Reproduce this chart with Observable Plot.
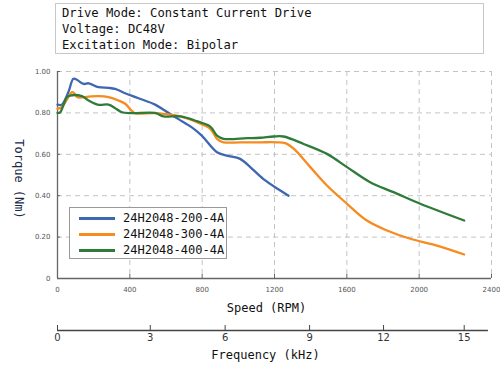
<!DOCTYPE html>
<html>
<head>
<meta charset="utf-8">
<script src="https://cdn.jsdelivr.net/npm/d3@7"></script>
<script src="https://cdn.jsdelivr.net/npm/@observablehq/plot@0.6"></script>
<style>
  body { margin: 0; background: #fff; }
  #wrap { position: relative; width: 500px; height: 374px; overflow: hidden; }
  #title {
    position: absolute; left: 55px; top: 3px; width: 421px; height: 48px;
    border: 1px solid #c8c8c8; padding: 1px 0 0 6px;
    font-family: "DejaVu Sans Mono", monospace; font-size: 12.2px; line-height: 16px; color: #111;
  }
  #chart { position: absolute; left: 0; top: 60px; }
  #legend {
    position: absolute; left: 69px; top: 207px; width: 156px; height: 50px;
    border: 1px solid #999; background: #fff;
    font-family: "DejaVu Sans Mono", monospace; font-size: 12px; color: #111;
  }
  .row { position: absolute; left: 9px; height: 16px; display: flex; align-items: center; }
  .sw { width: 36px; height: 3px; margin-right: 8px; }
</style>
</head>
<body>
<div id="wrap">
  <div id="title"></div>
  <div id="chart"></div>
  <div id="legend"></div>
</div>
<script>
// ---- text ----
const titleLines = ["Drive Mode: Constant Current Drive", "Voltage: DC48V", "Excitation Mode: Bipolar"];
const seriesNames = ["24H2048-200-4A", "24H2048-300-4A", "24H2048-400-4A"];
const seriesColors = ["#3d67b1", "#f68b1f", "#2f7b3a"];
const xLabel = "Speed (RPM)";
const yLabel = "Torque (Nm)";
const freqLabel = "Frequency (kHz)";

// ---- ticks ----
const rpmTicks = [0, 400, 800, 1200, 1600, 2000, 2400];
const torqueTicks = [0, 0.2, 0.4, 0.6, 0.8, 1.0];
const freqTickLabels = ["0", "3", "6", "9", "12", "15"];
// speed (RPM) under which each frequency label sits
const freqTickAtRpm = [0, 513, 927, 1394, 1803, 2249];
const freqAxisEndRpm = 2383;

// ---- series: 24H2048-200-4A ----
const rpm200 = [0, 24, 60, 88, 107, 144, 172, 227, 282, 319, 374, 448, 540, 596, 669, 743, 798, 882, 937, 1010, 1066, 1139, 1232, 1278];
const tq200  = [0.84, 0.84, 0.90, 0.965, 0.96, 0.94, 0.943, 0.924, 0.921, 0.916, 0.895, 0.871, 0.84, 0.81, 0.77, 0.73, 0.69, 0.61, 0.594, 0.578, 0.538, 0.48, 0.425, 0.40];
// ---- series: 24H2048-300-4A ----
const rpm300 = [0, 24, 80, 92, 110, 172, 227, 282, 337, 374, 411, 430, 531, 586, 679, 771, 845, 882, 918, 1010, 1121, 1213, 1259, 1306, 1398, 1490, 1601, 1711, 1822, 1951, 2098, 2249];
const tq300  = [0.82, 0.828, 0.90, 0.895, 0.876, 0.879, 0.881, 0.876, 0.86, 0.844, 0.81, 0.798, 0.799, 0.795, 0.783, 0.755, 0.723, 0.675, 0.658, 0.658, 0.658, 0.658, 0.654, 0.627, 0.538, 0.449, 0.361, 0.28, 0.232, 0.192, 0.159, 0.116];
// ---- series: 24H2048-400-4A ----
const rpm400 = [0, 15, 52, 70, 135, 172, 227, 282, 319, 356, 411, 540, 586, 679, 771, 845, 882, 918, 1048, 1121, 1195, 1250, 1361, 1490, 1601, 1729, 1858, 2006, 2249];
const tq400  = [0.80, 0.803, 0.876, 0.884, 0.881, 0.86, 0.839, 0.84, 0.823, 0.803, 0.799, 0.80, 0.783, 0.783, 0.76, 0.734, 0.69, 0.675, 0.678, 0.68, 0.686, 0.686, 0.65, 0.602, 0.538, 0.465, 0.417, 0.361, 0.28];

const rpmSets = [rpm200, rpm300, rpm400];
const tqSets = [tq200, tq300, tq400];
const rows = [];
seriesNames.forEach((name, i) => rpmSets[i].forEach((r, j) => rows.push({series: name, rpm: r, torque: tqSets[i][j]})));

document.getElementById("title").innerHTML = titleLines.map(t => `<div>${t}</div>`).join("");

const mono = "DejaVu Sans Mono, monospace";
const plot = Plot.plot({
  width: 500,
  height: 314,
  marginTop: 11,
  marginLeft: 57,
  marginRight: 9,
  marginBottom: 96,
  style: {fontFamily: "DejaVu Sans, sans-serif", fontSize: "7px", color: "#555", overflow: "visible", background: "transparent"},
  x: {domain: [rpmTicks[0], rpmTicks[rpmTicks.length - 1]]},
  y: {domain: [torqueTicks[0], torqueTicks[torqueTicks.length - 1]]},
  color: {domain: seriesNames, range: seriesColors},
  marks: [
    Plot.gridX(rpmTicks.slice(1), {stroke: "#c4c4c4", strokeOpacity: 1, strokeDasharray: "5,4"}),
    Plot.gridY(torqueTicks.slice(1), {stroke: "#c4c4c4", strokeOpacity: 1, strokeDasharray: "5,4"}),
    Plot.axisX(rpmTicks, {tickSize: -4, tickPadding: 13, tickFormat: d => String(d), label: null, stroke: "#666", fill: "#555"}),
    Plot.axisY(torqueTicks, {tickSize: -3, tickPadding: 10, tickFormat: d => d === 0 ? "0" : d.toFixed(2), label: null, stroke: "#666", fill: "#555"}),
    Plot.ruleY([0], {stroke: "#666", strokeWidth: 1.3}),
    Plot.ruleX([0], {stroke: "#666", strokeWidth: 1.3}),
    // frequency axis (positions expressed in RPM units)
    Plot.ruleY([0], {x1: freqTickAtRpm[0], x2: freqAxisEndRpm, dy: 52, stroke: "#444", strokeWidth: 1.5}),
    Plot.axisX(freqTickAtRpm, {tickSize: -5, tickPadding: 8, dy: 52, tickFormat: (d, i) => freqTickLabels[i], label: null, stroke: "#444", fill: "#333", fontSize: 10}),
    Plot.text([xLabel], {frameAnchor: "bottom", textAnchor: "middle", dx: -8, dy: 33, fontFamily: mono, fontSize: 12, fontWeight: "normal", fill: "#111"}),
    Plot.text([freqLabel], {frameAnchor: "bottom", textAnchor: "middle", dx: -9, dy: 80, fontFamily: mono, fontSize: 12, fontWeight: "normal", fill: "#111"}),
    Plot.text([yLabel], {frameAnchor: "left", textAnchor: "middle", rotate: 90, dx: -39, dy: 4, fontFamily: mono, fontSize: 12, fill: "#1c2a48"}),
    Plot.line(rows, {x: "rpm", y: "torque", z: "series", stroke: "series", strokeWidth: 2.3, curve: "catmull-rom"})
  ]
});
document.getElementById("chart").appendChild(plot);

document.getElementById("legend").innerHTML = seriesNames.map((n, i) =>
  `<div class="row" style="top:${2 + i * 16}px"><div class="sw" style="background:${seriesColors[i]}"></div><span>${n}</span></div>`
).join("");
</script>
</body>
</html>
